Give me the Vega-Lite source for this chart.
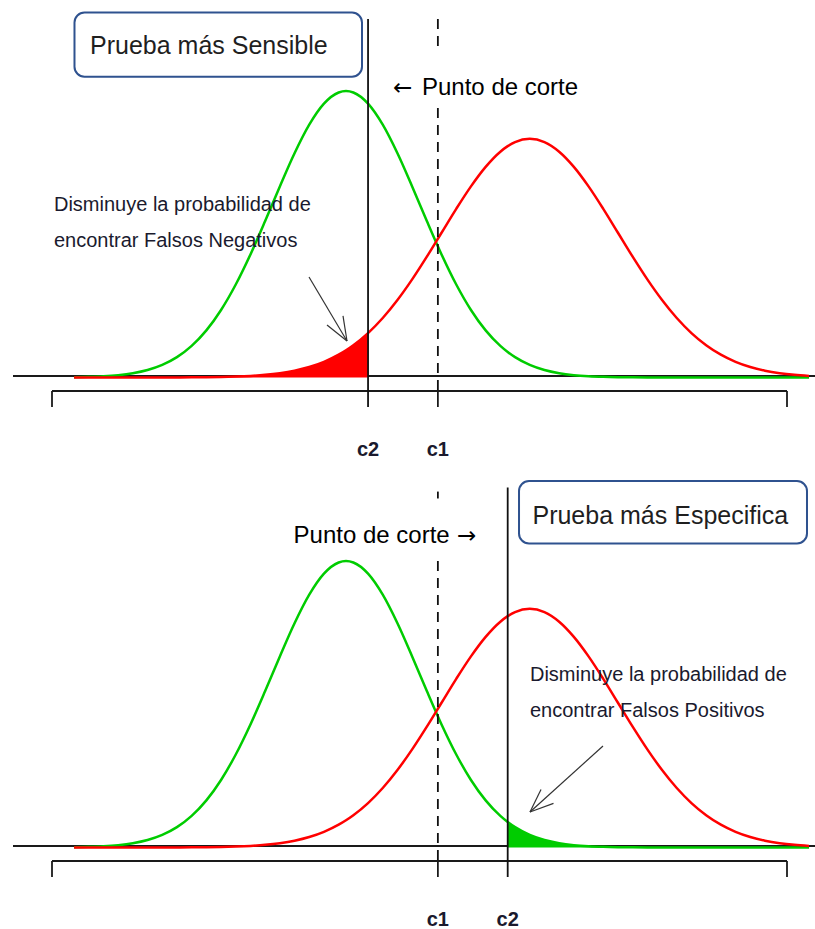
{
  "$schema": "https://vega.github.io/schema/vega-lite/v6.json",
  "padding": 0,
  "autosize": {"type": "pad"},
  "background": "white",
  "spacing": 15,
  "bounds": "flush",
  "config": {"view": {"stroke": null}},
  "datasets": {
    "curve": [
      {"x": -3.7, "g": 0.000425, "r": 0.0},
      {"x": -3.5, "g": 0.000873, "r": 0.000001},
      {"x": -3.3, "g": 0.001723, "r": 0.000003},
      {"x": -3.1, "g": 0.003267, "r": 0.000006},
      {"x": -2.9, "g": 0.005953, "r": 0.000013},
      {"x": -2.7, "g": 0.010421, "r": 0.000028},
      {"x": -2.5, "g": 0.017528, "r": 0.000056},
      {"x": -2.3, "g": 0.028327, "r": 0.000112},
      {"x": -2.1, "g": 0.043984, "r": 0.000214},
      {"x": -1.9, "g": 0.065616, "r": 0.0004},
      {"x": -1.7, "g": 0.094049, "r": 0.000727},
      {"x": -1.5, "g": 0.129518, "r": 0.001285},
      {"x": -1.3, "g": 0.171369, "r": 0.002209},
      {"x": -1.1, "g": 0.217852, "r": 0.003693},
      {"x": -0.9, "g": 0.266085, "r": 0.006005},
      {"x": -0.7, "g": 0.312254, "r": 0.009495},
      {"x": -0.5, "g": 0.352065, "r": 0.014607},
      {"x": -0.3, "g": 0.381388, "r": 0.021849},
      {"x": -0.1, "g": 0.396953, "r": 0.031797},
      {"x": 0.0, "g": 0.398942, "r": 0.037959},
      {"x": 0.1, "g": 0.396953, "r": 0.044993},
      {"x": 0.3, "g": 0.381388, "r": 0.061906},
      {"x": 0.5, "g": 0.352065, "r": 0.082898},
      {"x": 0.7, "g": 0.312254, "r": 0.107931},
      {"x": 0.9, "g": 0.266085, "r": 0.136675},
      {"x": 1.1, "g": 0.217852, "r": 0.168336},
      {"x": 1.3, "g": 0.171369, "r": 0.201643},
      {"x": 1.5, "g": 0.129518, "r": 0.234927},
      {"x": 1.7, "g": 0.094049, "r": 0.266207},
      {"x": 1.9, "g": 0.065616, "r": 0.293388},
      {"x": 2.1, "g": 0.043984, "r": 0.314486},
      {"x": 2.2, "g": 0.035475, "r": 0.322223},
      {"x": 2.3, "g": 0.028327, "r": 0.327866},
      {"x": 2.5, "g": 0.017528, "r": 0.332452},
      {"x": 2.7, "g": 0.010421, "r": 0.327866},
      {"x": 2.9, "g": 0.005953, "r": 0.314486},
      {"x": 3.1, "g": 0.003267, "r": 0.293388},
      {"x": 3.3, "g": 0.001723, "r": 0.266207},
      {"x": 3.5, "g": 0.000873, "r": 0.234927},
      {"x": 3.7, "g": 0.000425, "r": 0.201643},
      {"x": 3.9, "g": 0.000199, "r": 0.168336},
      {"x": 4.1, "g": 0.000089, "r": 0.136675},
      {"x": 4.3, "g": 0.000039, "r": 0.107931},
      {"x": 4.5, "g": 0.000016, "r": 0.082898},
      {"x": 4.7, "g": 0.000006, "r": 0.061906},
      {"x": 4.9, "g": 0.000002, "r": 0.044993},
      {"x": 5.1, "g": 0.000001, "r": 0.031797},
      {"x": 5.3, "g": 0.0, "r": 0.021849},
      {"x": 5.5, "g": 0.0, "r": 0.014607},
      {"x": 5.7, "g": 0.0, "r": 0.009495},
      {"x": 5.9, "g": 0.0, "r": 0.006005},
      {"x": 6.1, "g": 0.0, "r": 0.003693},
      {"x": 6.3, "g": 0.0, "r": 0.002209}
    ],
    "segs": [
      {"panel": "top", "kind": "axis", "x": -4.5306, "y": 0.0021, "x2": 6.381, "y2": 0.0021},
      {"panel": "top", "kind": "axis", "x": -4, "y": -0.0188, "x2": 6, "y2": -0.0188},
      {"panel": "top", "kind": "axis", "x": -4, "y": -0.0188, "x2": -4, "y2": -0.0411},
      {"panel": "top", "kind": "axis", "x": 6, "y": -0.0188, "x2": 6, "y2": -0.0411},
      {"panel": "top", "kind": "axis", "x": 1.25, "y": -0.0188, "x2": 1.25, "y2": -0.0411},
      {"panel": "top", "kind": "c2", "x": 0.3, "y": 0.4993, "x2": 0.3, "y2": -0.0411},
      {"panel": "top", "kind": "c1", "x": 1.25, "y": 0.4993, "x2": 1.25, "y2": 0.4589},
      {"panel": "top", "kind": "c1", "x": 1.25, "y": 0.3753, "x2": 1.25, "y2": -0.0188},
      {"panel": "top", "kind": "arrow", "x": -0.5034, "y": 0.14, "x2": 0.0136, "y2": 0.0508},
      {"panel": "top", "kind": "arrow", "x": 0.0136, "y": 0.0508, "x2": -0.2585, "y2": 0.0731},
      {"panel": "top", "kind": "arrow", "x": 0.0136, "y": 0.0508, "x2": -0.0408, "y2": 0.0857},
      {"panel": "bottom", "kind": "axis", "x": -4.5306, "y": 0.0021, "x2": 6.381, "y2": 0.0021},
      {"panel": "bottom", "kind": "axis", "x": -4, "y": -0.0188, "x2": 6, "y2": -0.0188},
      {"panel": "bottom", "kind": "axis", "x": -4, "y": -0.0188, "x2": -4, "y2": -0.0411},
      {"panel": "bottom", "kind": "axis", "x": 6, "y": -0.0188, "x2": 6, "y2": -0.0411},
      {"panel": "bottom", "kind": "axis", "x": 1.25, "y": -0.0188, "x2": 1.25, "y2": -0.0411},
      {"panel": "bottom", "kind": "c2", "x": 2.2, "y": 0.5014, "x2": 2.2, "y2": -0.0411},
      {"panel": "bottom", "kind": "c1", "x": 1.25, "y": 0.4957, "x2": 1.25, "y2": 0.4861},
      {"panel": "bottom", "kind": "c1", "x": 1.25, "y": 0.399, "x2": 1.25, "y2": -0.0188},
      {"panel": "bottom", "kind": "arrow", "x": 3.4966, "y": 0.1414, "x2": 2.5034, "y2": 0.0494},
      {"panel": "bottom", "kind": "arrow", "x": 2.5034, "y": 0.0494, "x2": 2.653, "y2": 0.0808},
      {"panel": "bottom", "kind": "arrow", "x": 2.5034, "y": 0.0494, "x2": 2.823, "y2": 0.0614}
    ],
    "boxes": [
      {"panel": "top", "x": -3.694, "x2": 0.2177, "y": 0.5082, "y2": 0.4189},
      {"panel": "bottom", "x": 2.354, "x2": 6.272, "y": 0.5104, "y2": 0.4234}
    ],
    "texts": [
      {"panel": "top", "kind": "title", "x": -3.483, "y": 0.4506, "label": "Prueba más Sensible"},
      {"panel": "bottom", "kind": "title", "x": 2.537, "y": 0.4506, "label": "Prueba más Especifica"},
      {"panel": "top", "kind": "cut", "x": 1.034, "y": 0.3935, "label": "Punto de corte"},
      {"panel": "top", "kind": "glyph", "x": 0.6395, "y": 0.3935, "label": "←"},
      {"panel": "bottom", "kind": "cut", "x": -0.7129, "y": 0.4241, "label": "Punto de corte"},
      {"panel": "bottom", "kind": "glyph", "x": 1.51, "y": 0.4241, "label": "→"},
      {"panel": "top", "kind": "note", "x": -3.973, "y": 0.2319, "label": "Disminuye la probabilidad de"},
      {"panel": "top", "kind": "note", "x": -3.973, "y": 0.1818, "label": "encontrar Falsos Negativos"},
      {"panel": "bottom", "kind": "note", "x": 2.503, "y": 0.2319, "label": "Disminuye la probabilidad de"},
      {"panel": "bottom", "kind": "note", "x": 2.503, "y": 0.1818, "label": "encontrar Falsos Positivos"},
      {"panel": "top", "kind": "tick", "x": 0.3, "y": -0.1093, "label": "c2"},
      {"panel": "top", "kind": "tick", "x": 1.25, "y": -0.1093, "label": "c1"},
      {"panel": "bottom", "kind": "tick", "x": 1.25, "y": -0.1093, "label": "c1"},
      {"panel": "bottom", "kind": "tick", "x": 2.2, "y": -0.1093, "label": "c2"}
    ]
  },
  "vconcat": [
    {
      "width": 815,
      "height": 455,
      "encoding": {
        "x": {"field": "x", "type": "quantitative", "scale": {"domain": [-4.70748, 6.38095], "nice": false, "zero": false}, "axis": null}
      },
      "layer": [
        {
          "data": {"name": "segs"},
          "transform": [{"filter": "datum.panel == 'top' && datum.kind == 'axis'"}],
          "mark": {"type": "rule", "color": "#1a1a1a", "strokeWidth": 1.8},
          "encoding": {
            "y": {"field": "y", "type": "quantitative", "scale": {"domain": [-0.10794, 0.52577], "nice": false, "zero": false}, "axis": null},
            "x2": {"field": "x2"}, "y2": {"field": "y2"}
          }
        },
        {
          "data": {"name": "curve"},
          "mark": {"type": "line", "color": "#00cc00", "strokeWidth": 2.5, "interpolate": "monotone"},
          "encoding": {
            "y": {"field": "g", "type": "quantitative", "scale": {"domain": [-0.10794, 0.52577], "nice": false, "zero": false}, "axis": null}
          }
        },
        {
          "data": {"name": "curve"},
          "mark": {"type": "line", "color": "#ff0000", "strokeWidth": 2.5, "interpolate": "monotone"},
          "encoding": {
            "y": {"field": "r", "type": "quantitative", "scale": {"domain": [-0.10794, 0.52577], "nice": false, "zero": false}, "axis": null}
          }
        },
        {
          "data": {"name": "curve"},
          "transform": [{"filter": "datum.x <= 0.3"}],
          "mark": {"type": "area", "color": "#ff0000", "opacity": 1, "interpolate": "monotone"},
          "encoding": {
            "y": {"field": "r", "type": "quantitative", "scale": {"domain": [-0.10794, 0.52577], "nice": false, "zero": false}, "axis": null}
          }
        },
        {
          "data": {"name": "segs"},
          "transform": [{"filter": "datum.panel == 'top' && datum.kind == 'c2'"}],
          "mark": {"type": "rule", "color": "#111111", "strokeWidth": 1.8},
          "encoding": {
            "y": {"field": "y", "type": "quantitative", "scale": {"domain": [-0.10794, 0.52577], "nice": false, "zero": false}, "axis": null},
            "x2": {"field": "x2"}, "y2": {"field": "y2"}
          }
        },
        {
          "data": {"name": "segs"},
          "transform": [{"filter": "datum.panel == 'top' && datum.kind == 'c1'"}],
          "mark": {"type": "rule", "color": "#111111", "strokeWidth": 1.8, "strokeDash": [10, 7]},
          "encoding": {
            "y": {"field": "y", "type": "quantitative", "scale": {"domain": [-0.10794, 0.52577], "nice": false, "zero": false}, "axis": null},
            "x2": {"field": "x2"}, "y2": {"field": "y2"}
          }
        },
        {
          "data": {"name": "segs"},
          "transform": [{"filter": "datum.panel == 'top' && datum.kind == 'arrow'"}],
          "mark": {"type": "rule", "color": "#333333", "strokeWidth": 1.2},
          "encoding": {
            "y": {"field": "y", "type": "quantitative", "scale": {"domain": [-0.10794, 0.52577], "nice": false, "zero": false}, "axis": null},
            "x2": {"field": "x2"}, "y2": {"field": "y2"}
          }
        },
        {
          "data": {"name": "boxes"},
          "transform": [{"filter": "datum.panel == 'top'"}],
          "mark": {"type": "rect", "fill": "white", "stroke": "#2f528f", "strokeWidth": 2, "cornerRadius": 10},
          "encoding": {
            "y": {"field": "y", "type": "quantitative", "scale": {"domain": [-0.10794, 0.52577], "nice": false, "zero": false}, "axis": null},
            "x2": {"field": "x2"}, "y2": {"field": "y2"}
          }
        },
        {
          "data": {"name": "texts"},
          "transform": [{"filter": "datum.panel == 'top' && datum.kind == 'title'"}],
          "mark": {"type": "text", "align": "left", "baseline": "alphabetic", "font": "Liberation Sans", "fontSize": 25, "color": "#1f1f1f"},
          "encoding": {
            "y": {"field": "y", "type": "quantitative", "scale": {"domain": [-0.10794, 0.52577], "nice": false, "zero": false}, "axis": null},
            "text": {"field": "label"}
          }
        },
        {
          "data": {"name": "texts"},
          "transform": [{"filter": "datum.panel == 'top' && datum.kind == 'cut'"}],
          "mark": {"type": "text", "align": "left", "baseline": "alphabetic", "font": "Liberation Sans", "fontSize": 24, "color": "#000000"},
          "encoding": {
            "y": {"field": "y", "type": "quantitative", "scale": {"domain": [-0.10794, 0.52577], "nice": false, "zero": false}, "axis": null},
            "text": {"field": "label"}
          }
        },
        {
          "data": {"name": "texts"},
          "transform": [{"filter": "datum.panel == 'top' && datum.kind == 'glyph'"}],
          "mark": {"type": "text", "align": "left", "baseline": "alphabetic", "font": "DejaVu Sans", "fontSize": 23, "color": "#000000"},
          "encoding": {
            "y": {"field": "y", "type": "quantitative", "scale": {"domain": [-0.10794, 0.52577], "nice": false, "zero": false}, "axis": null},
            "text": {"field": "label"}
          }
        },
        {
          "data": {"name": "texts"},
          "transform": [{"filter": "datum.panel == 'top' && datum.kind == 'note'"}],
          "mark": {"type": "text", "align": "left", "baseline": "alphabetic", "font": "Liberation Sans", "fontSize": 20, "color": "#1a1a2e"},
          "encoding": {
            "y": {"field": "y", "type": "quantitative", "scale": {"domain": [-0.10794, 0.52577], "nice": false, "zero": false}, "axis": null},
            "text": {"field": "label"}
          }
        },
        {
          "data": {"name": "texts"},
          "transform": [{"filter": "datum.panel == 'top' && datum.kind == 'tick'"}],
          "mark": {"type": "text", "align": "center", "baseline": "alphabetic", "font": "Liberation Sans", "fontSize": 20, "fontWeight": "bold", "color": "#1a1a2e"},
          "encoding": {
            "y": {"field": "y", "type": "quantitative", "scale": {"domain": [-0.10794, 0.52577], "nice": false, "zero": false}, "axis": null},
            "text": {"field": "label"}
          }
        }
      ]
    },
    {
      "width": 815,
      "height": 455,
      "encoding": {
        "x": {"field": "x", "type": "quantitative", "scale": {"domain": [-4.70748, 6.38095], "nice": false, "zero": false}, "axis": null}
      },
      "layer": [
        {
          "data": {"name": "segs"},
          "transform": [{"filter": "datum.panel == 'bottom' && datum.kind == 'axis'"}],
          "mark": {"type": "rule", "color": "#1a1a1a", "strokeWidth": 1.8},
          "encoding": {
            "y": {"field": "y", "type": "quantitative", "scale": {"domain": [-0.10794, 0.52577], "nice": false, "zero": false}, "axis": null},
            "x2": {"field": "x2"}, "y2": {"field": "y2"}
          }
        },
        {
          "data": {"name": "curve"},
          "mark": {"type": "line", "color": "#00cc00", "strokeWidth": 2.5, "interpolate": "monotone"},
          "encoding": {
            "y": {"field": "g", "type": "quantitative", "scale": {"domain": [-0.10794, 0.52577], "nice": false, "zero": false}, "axis": null}
          }
        },
        {
          "data": {"name": "curve"},
          "mark": {"type": "line", "color": "#ff0000", "strokeWidth": 2.5, "interpolate": "monotone"},
          "encoding": {
            "y": {"field": "r", "type": "quantitative", "scale": {"domain": [-0.10794, 0.52577], "nice": false, "zero": false}, "axis": null}
          }
        },
        {
          "data": {"name": "curve"},
          "transform": [{"filter": "datum.x >= 2.2"}],
          "mark": {"type": "area", "color": "#00cc00", "opacity": 1, "interpolate": "monotone"},
          "encoding": {
            "y": {"field": "g", "type": "quantitative", "scale": {"domain": [-0.10794, 0.52577], "nice": false, "zero": false}, "axis": null}
          }
        },
        {
          "data": {"name": "segs"},
          "transform": [{"filter": "datum.panel == 'bottom' && datum.kind == 'c2'"}],
          "mark": {"type": "rule", "color": "#111111", "strokeWidth": 1.8},
          "encoding": {
            "y": {"field": "y", "type": "quantitative", "scale": {"domain": [-0.10794, 0.52577], "nice": false, "zero": false}, "axis": null},
            "x2": {"field": "x2"}, "y2": {"field": "y2"}
          }
        },
        {
          "data": {"name": "segs"},
          "transform": [{"filter": "datum.panel == 'bottom' && datum.kind == 'c1'"}],
          "mark": {"type": "rule", "color": "#111111", "strokeWidth": 1.8, "strokeDash": [10, 7]},
          "encoding": {
            "y": {"field": "y", "type": "quantitative", "scale": {"domain": [-0.10794, 0.52577], "nice": false, "zero": false}, "axis": null},
            "x2": {"field": "x2"}, "y2": {"field": "y2"}
          }
        },
        {
          "data": {"name": "segs"},
          "transform": [{"filter": "datum.panel == 'bottom' && datum.kind == 'arrow'"}],
          "mark": {"type": "rule", "color": "#333333", "strokeWidth": 1.2},
          "encoding": {
            "y": {"field": "y", "type": "quantitative", "scale": {"domain": [-0.10794, 0.52577], "nice": false, "zero": false}, "axis": null},
            "x2": {"field": "x2"}, "y2": {"field": "y2"}
          }
        },
        {
          "data": {"name": "boxes"},
          "transform": [{"filter": "datum.panel == 'bottom'"}],
          "mark": {"type": "rect", "fill": "white", "stroke": "#2f528f", "strokeWidth": 2, "cornerRadius": 10},
          "encoding": {
            "y": {"field": "y", "type": "quantitative", "scale": {"domain": [-0.10794, 0.52577], "nice": false, "zero": false}, "axis": null},
            "x2": {"field": "x2"}, "y2": {"field": "y2"}
          }
        },
        {
          "data": {"name": "texts"},
          "transform": [{"filter": "datum.panel == 'bottom' && datum.kind == 'title'"}],
          "mark": {"type": "text", "align": "left", "baseline": "alphabetic", "font": "Liberation Sans", "fontSize": 25, "color": "#1f1f1f"},
          "encoding": {
            "y": {"field": "y", "type": "quantitative", "scale": {"domain": [-0.10794, 0.52577], "nice": false, "zero": false}, "axis": null},
            "text": {"field": "label"}
          }
        },
        {
          "data": {"name": "texts"},
          "transform": [{"filter": "datum.panel == 'bottom' && datum.kind == 'cut'"}],
          "mark": {"type": "text", "align": "left", "baseline": "alphabetic", "font": "Liberation Sans", "fontSize": 24, "color": "#000000"},
          "encoding": {
            "y": {"field": "y", "type": "quantitative", "scale": {"domain": [-0.10794, 0.52577], "nice": false, "zero": false}, "axis": null},
            "text": {"field": "label"}
          }
        },
        {
          "data": {"name": "texts"},
          "transform": [{"filter": "datum.panel == 'bottom' && datum.kind == 'glyph'"}],
          "mark": {"type": "text", "align": "left", "baseline": "alphabetic", "font": "DejaVu Sans", "fontSize": 23, "color": "#000000"},
          "encoding": {
            "y": {"field": "y", "type": "quantitative", "scale": {"domain": [-0.10794, 0.52577], "nice": false, "zero": false}, "axis": null},
            "text": {"field": "label"}
          }
        },
        {
          "data": {"name": "texts"},
          "transform": [{"filter": "datum.panel == 'bottom' && datum.kind == 'note'"}],
          "mark": {"type": "text", "align": "left", "baseline": "alphabetic", "font": "Liberation Sans", "fontSize": 20, "color": "#1a1a2e"},
          "encoding": {
            "y": {"field": "y", "type": "quantitative", "scale": {"domain": [-0.10794, 0.52577], "nice": false, "zero": false}, "axis": null},
            "text": {"field": "label"}
          }
        },
        {
          "data": {"name": "texts"},
          "transform": [{"filter": "datum.panel == 'bottom' && datum.kind == 'tick'"}],
          "mark": {"type": "text", "align": "center", "baseline": "alphabetic", "font": "Liberation Sans", "fontSize": 20, "fontWeight": "bold", "color": "#1a1a2e"},
          "encoding": {
            "y": {"field": "y", "type": "quantitative", "scale": {"domain": [-0.10794, 0.52577], "nice": false, "zero": false}, "axis": null},
            "text": {"field": "label"}
          }
        }
      ]
    }
  ]
}
